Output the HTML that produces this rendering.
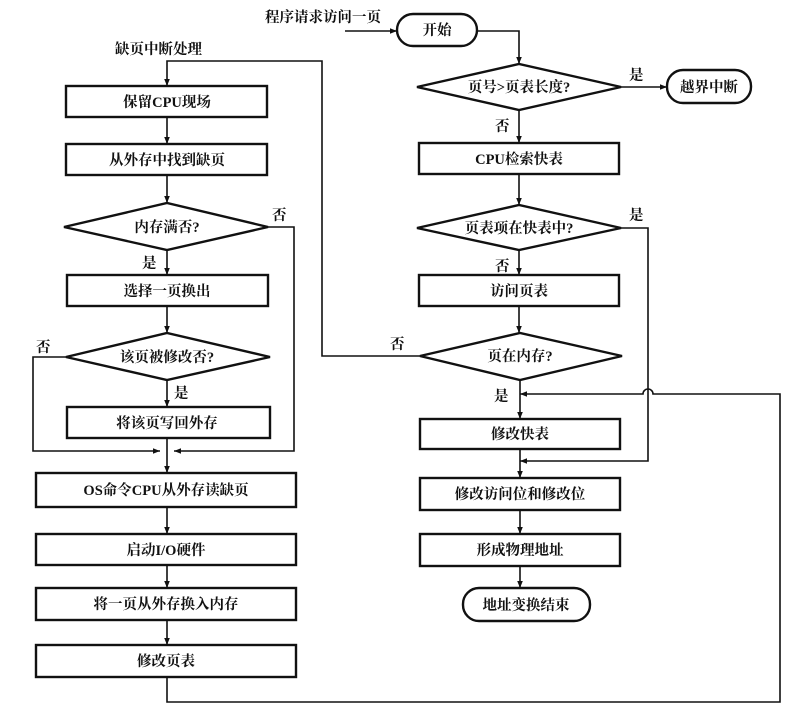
<!DOCTYPE html>
<html><head><meta charset="utf-8"><style>
html,body{margin:0;padding:0;background:#fff;}
svg{display:block;}
text{font-family:"Liberation Serif","Noto Serif CJK SC",serif;font-weight:bold;font-size:14.5px;fill:#111;}
</style></head><body>
<svg width="800" height="712" viewBox="0 0 800 712" xmlns="http://www.w3.org/2000/svg">
<defs>
<marker id="a" viewBox="0 0 10 10" refX="10" refY="5" markerWidth="7" markerHeight="7" orient="auto-start-reverse" markerUnits="userSpaceOnUse">
<path d="M0,1 L10,5 L0,9 z" fill="#111"/></marker>
</defs>
<g fill="none" stroke="#111" stroke-width="1.6">
<rect x="66" y="86" width="201" height="31" stroke-width="2.4"/>
<rect x="66" y="144" width="201" height="31" stroke-width="2.4"/>
<polygon points="64,227 167,203 268,227 167,250" stroke-width="2.4"/>
<rect x="67" y="275" width="201" height="31" stroke-width="2.4"/>
<polygon points="66,357 167,333 270,357 167,380" stroke-width="2.4"/>
<rect x="67" y="407" width="203" height="31" stroke-width="2.4"/>
<rect x="36" y="473" width="260" height="34" stroke-width="2.4"/>
<rect x="36" y="534" width="260" height="31" stroke-width="2.4"/>
<rect x="36" y="588" width="260" height="32" stroke-width="2.4"/>
<rect x="36" y="645" width="260" height="32" stroke-width="2.4"/>
<line x1="167" y1="117" x2="167" y2="144" marker-end="url(#a)"/>
<line x1="167" y1="175" x2="167" y2="203" marker-end="url(#a)"/>
<line x1="167" y1="250" x2="167" y2="275" marker-end="url(#a)"/>
<line x1="167" y1="306" x2="167" y2="333" marker-end="url(#a)"/>
<line x1="167" y1="380" x2="167" y2="407" marker-end="url(#a)"/>
<line x1="167" y1="438" x2="167" y2="473" marker-end="url(#a)"/>
<line x1="167" y1="507" x2="167" y2="534" marker-end="url(#a)"/>
<line x1="167" y1="565" x2="167" y2="588" marker-end="url(#a)"/>
<line x1="167" y1="620" x2="167" y2="645" marker-end="url(#a)"/>
<polyline points="66,357 33,357 33,451 160,451" marker-end="url(#a)"/>
<polyline points="268,227 294,227 294,451 174,451" marker-end="url(#a)"/>
<polyline points="420,356 322,356 322,61 167,61 167,86" marker-end="url(#a)"/>
<rect x="397" y="14" width="80" height="32" rx="16" stroke-width="2.4"/>
<rect x="667" y="70" width="84" height="33" rx="16" stroke-width="2.4"/>
<polygon points="417,87 519,64 621,87 519,110" stroke-width="2.4"/>
<rect x="419" y="143" width="200" height="31" stroke-width="2.4"/>
<polygon points="417,228 519,205 621,228 519,250" stroke-width="2.4"/>
<rect x="419" y="275" width="200" height="31" stroke-width="2.4"/>
<polygon points="420,356 520,333 622,356 520,380" stroke-width="2.4"/>
<rect x="420" y="419" width="200" height="30" stroke-width="2.4"/>
<rect x="420" y="478" width="200" height="32" stroke-width="2.4"/>
<rect x="420" y="534" width="200" height="32" stroke-width="2.4"/>
<rect x="463" y="588" width="127" height="33" rx="16" stroke-width="2.4"/>
<line x1="345" y1="31" x2="397" y2="31" marker-end="url(#a)"/>
<polyline points="477,31 519,31 519,64" marker-end="url(#a)"/>
<line x1="621" y1="87" x2="667" y2="87" marker-end="url(#a)"/>
<line x1="519" y1="110" x2="519" y2="143" marker-end="url(#a)"/>
<line x1="519" y1="174" x2="519" y2="205" marker-end="url(#a)"/>
<line x1="519" y1="250" x2="519" y2="275" marker-end="url(#a)"/>
<line x1="519" y1="306" x2="519" y2="333" marker-end="url(#a)"/>
<line x1="520" y1="380" x2="520" y2="419" marker-end="url(#a)"/>
<line x1="520" y1="449" x2="520" y2="478" marker-end="url(#a)"/>
<line x1="520" y1="510" x2="520" y2="534" marker-end="url(#a)"/>
<line x1="520" y1="566" x2="520" y2="588" marker-end="url(#a)"/>
<polyline points="621,228 648,228 648,461 520,461" marker-end="url(#a)"/>
<path d="M167,677 L167,702 L780,702 L780,394 L653,394 A5,5 0 0 0 643,394 L520,394" marker-end="url(#a)"/>
</g>
<g text-anchor="middle">
<text x="167" y="107">保留CPU现场</text>
<text x="167" y="165">从外存中找到缺页</text>
<text x="167" y="232">内存满否?</text>
<text x="167" y="296">选择一页换出</text>
<text x="167" y="362">该页被修改否?</text>
<text x="167" y="428">将该页写回外存</text>
<text x="166" y="495">OS命令CPU从外存读缺页</text>
<text x="166" y="555">启动I/O硬件</text>
<text x="166" y="609">将一页从外存换入内存</text>
<text x="166" y="666">修改页表</text>
<text x="437" y="35">开始</text>
<text x="709" y="92">越界中断</text>
<text x="519" y="92">页号&gt;页表长度?</text>
<text x="519" y="164">CPU检索快表</text>
<text x="519" y="233">页表项在快表中?</text>
<text x="519" y="296">访问页表</text>
<text x="520" y="361">页在内存?</text>
<text x="520" y="439">修改快表</text>
<text x="520" y="499">修改访问位和修改位</text>
<text x="520" y="555">形成物理地址</text>
<text x="526" y="610">地址变换结束</text>
</g>
<g>
<text x="265" y="22">程序请求访问一页</text>
<text x="115" y="54">缺页中断处理</text>
<text x="272" y="220">否</text>
<text x="142" y="268">是</text>
<text x="36" y="352">否</text>
<text x="174" y="398">是</text>
<text x="629" y="80">是</text>
<text x="495" y="131">否</text>
<text x="629" y="220">是</text>
<text x="495" y="271">否</text>
<text x="390" y="349">否</text>
<text x="494" y="401">是</text>
</g>
</svg>
</body></html>
